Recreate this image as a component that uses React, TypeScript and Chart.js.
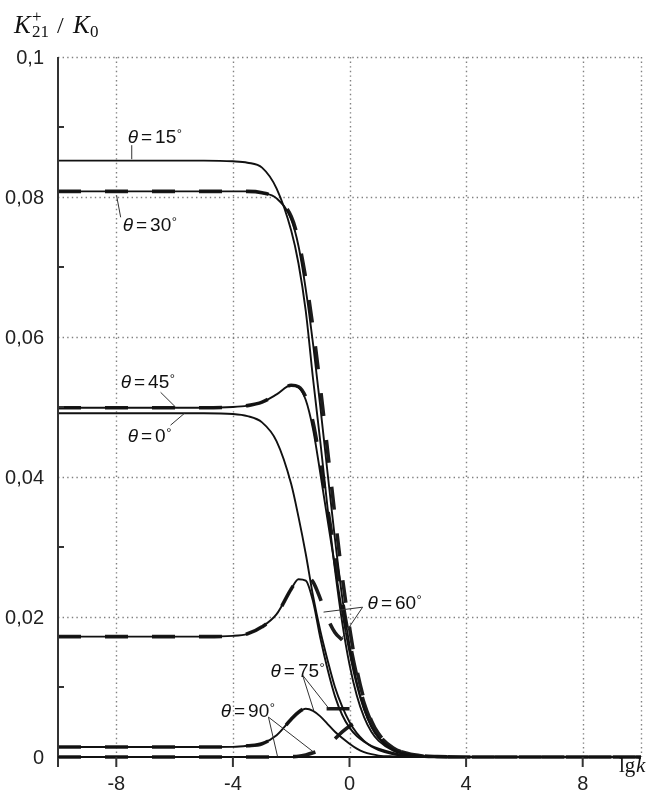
import React, { useEffect, useRef } from 'react';
import { Chart, registerables } from 'chart.js';

Chart.register(...registerables);

// lg k sample points
const LGK = [-10, -8, -6, -5, -4, -3.5, -3, -2.5, -2, -1.75, -1.5, -1.25, -1, -0.75, -0.5, -0.25, 0, 0.25, 0.5, 0.75, 1, 1.5, 2, 2.5, 3, 4, 6, 8, 10];

// solid curves
const T0 = [0.0491, 0.0491, 0.0491, 0.0491, 0.0490, 0.0487, 0.0478, 0.0451, 0.0390, 0.0343, 0.0290, 0.0230, 0.0180, 0.0138, 0.0100, 0.0072, 0.0050, 0.0034, 0.0023, 0.0015, 0.0010, 0.0004, 0.00015, 0.00005, 0.00002, 0, 0, 0, 0];
const T15 = [0.0852, 0.0852, 0.0852, 0.0852, 0.0851, 0.0849, 0.0842, 0.0812, 0.0752, 0.0705, 0.0637, 0.0540, 0.0450, 0.0355, 0.0268, 0.0192, 0.0132, 0.0088, 0.0057, 0.0036, 0.0023, 0.0009, 0.0003, 0.0001, 0.00003, 0, 0, 0, 0];
const T30 = [0.0808, 0.0808, 0.0808, 0.0808, 0.0808, 0.0808, 0.0806, 0.0798, 0.0768, 0.0730, 0.0668, 0.0590, 0.0500, 0.0405, 0.0312, 0.0228, 0.0160, 0.0107, 0.0069, 0.0043, 0.0027, 0.0010, 0.0004, 0.00012, 0.00004, 0, 0, 0, 0];
const T45 = [0.0499, 0.0499, 0.0499, 0.0499, 0.0500, 0.0502, 0.0507, 0.0518, 0.0531, 0.0528, 0.0510, 0.0468, 0.0405, 0.0338, 0.0272, 0.0207, 0.0150, 0.0103, 0.0068, 0.0044, 0.0028, 0.0011, 0.0004, 0.00012, 0.00004, 0, 0, 0, 0];
const T60 = [0.0172, 0.0172, 0.0172, 0.0172, 0.0173, 0.0176, 0.0186, 0.0204, 0.0240, 0.0254, 0.0252, 0.0222, 0.0170, 0.0125, 0.0087, 0.0060, 0.0042, 0.0030, 0.0022, 0.0016, 0.0012, 0.0006, 0.0002, 0.00007, 0.00002, 0, 0, 0, 0];
const T75 = [0.00143, 0.00143, 0.00143, 0.00143, 0.00145, 0.0016, 0.0019, 0.0031, 0.0054, 0.0064, 0.0069, 0.0066, 0.0058, 0.0047, 0.0036, 0.0027, 0.0019, 0.0012, 0.0007, 0.0004, 0.0002, 0.00008, 0.00003, 0, 0, 0, 0, 0, 0];
const T90 = [0, 0, 0, 0, 0, 0, 0, 0, 0, 0, 0, 0, 0, 0, 0, 0, 0, 0, 0, 0, 0, 0, 0, 0, 0, 0, 0, 0, 0];

// dashed curves (null = not drawn)
const D30 = [0.0808, 0.0808, 0.0808, 0.0808, 0.0808, 0.0808, 0.0806, 0.0798, 0.0772, 0.0738, 0.0683, 0.0612, 0.0528, 0.0437, 0.0345, 0.0258, 0.0185, 0.0125, 0.0082, 0.0052, 0.0033, 0.0013, 0.0005, 0.00015, 0.00005, 0, 0, 0, 0];
const D45 = [0.0499, 0.0499, 0.0499, 0.0499, 0.0500, 0.0502, 0.0507, 0.0518, 0.0531, 0.0529, 0.0514, 0.0478, 0.0420, 0.0355, 0.0290, 0.0225, 0.0166, 0.0116, 0.0077, 0.0050, 0.0032, 0.0013, 0.0005, 0.00015, 0.00005, 0, 0, 0, 0];
const D60 = [0.0172, 0.0172, 0.0172, 0.0172, 0.0173, 0.0176, 0.0186, 0.0204, 0.0240, 0.0255, 0.0258, 0.0250, 0.0226, 0.0198, 0.0178, 0.0167, null, null, null, null, null, null, null, null, null, null, null, null, null];
const D75 = [0.00143, 0.00143, 0.00143, 0.00143, 0.00145, 0.0016, 0.0019, 0.0031, 0.0054, 0.0064, 0.0069, 0.0069, 0.0069, 0.0069, 0.0069, 0.0069, 0.0069, null, null, null, null, null, null, null, null, null, null, null, null];
const D90 = [0, 0, 0, 0, 0, 0, 0, 0, 0.00005, 0.0001, 0.0003, 0.0006, 0.0010, 0.0016, 0.0026, 0.0036, 0.0044, 0.0050, null, null, null, null, null, null, null, null, null, null, null];

// axis ticks
const X_TICKS = [-8, -4, 0, 4, 8];
const X_GRID = [-8, -4, 0, 4, 8, 10];
const Y_LABELS = [0, 0.02, 0.04, 0.06, 0.08, 0.1];
const Y_LABEL_TEXT = ['0', '0,02', '0,04', '0,06', '0,08', '0,1'];
const Y_MINOR = [0.01, 0.03, 0.05, 0.07, 0.09];

// curve annotations: text position (lg k, value) and leader lines
const ANN_TEXT = ['15', '30', '45', '0', '60', '75', '90'];
const ANN_X = [-7.61, -7.78, -7.85, -7.61, 0.62, -2.71, -4.42];
const ANN_Y = [0.0877, 0.0752, 0.0527, 0.0450, 0.0212, 0.0114, 0.0057];
const LEADERS: number[][] = [
  [-7.47, 0.0874, -7.47, 0.0854],
  [-7.99, 0.0802, -7.85, 0.0771],
  [-6.48, 0.0521, -5.97, 0.0500],
  [-6.14, 0.0474, -5.66, 0.0491],
  [0.45, 0.0214, -0.89, 0.0207],
  [0.45, 0.0214, -0.31, 0.0167],
  [-1.61, 0.0117, -1.23, 0.0067],
  [-1.61, 0.0117, -0.72, 0.0070],
  [-2.78, 0.0057, -2.47, 0.0001],
  [-2.78, 0.0057, -1.23, 0.0007],
];

const mk = (ys: (number | null)[], dashed: boolean) => ({
  data: LGK.map((x, i) => ({ x, y: ys[i] })).filter((p) => p.y !== null),
  borderColor: dashed ? '#1c1c1c' : '#111111',
  borderWidth: dashed ? 3.6 : 1.9,
  borderDash: dashed ? [23, 24] : [],
  pointRadius: 0,
  cubicInterpolationMode: 'monotone' as const,
  fill: false,
  clip: false as const,
});

const decor = {
  id: 'decor',
  beforeDatasetsDraw(chart: any) {
    const { ctx, chartArea: a, scales } = chart;
    const xs = scales.x, ys = scales.y;
    ctx.save();
    ctx.strokeStyle = '#808080';
    ctx.lineWidth = 1.4;
    ctx.setLineDash([1.4, 3.2]);
    for (const v of X_GRID) {
      const px = Math.round(xs.getPixelForValue(v)) + 0.5;
      ctx.beginPath(); ctx.moveTo(px, a.top); ctx.lineTo(px, a.bottom); ctx.stroke();
    }
    for (const v of Y_LABELS) {
      if (v === 0) continue;
      const py = Math.round(ys.getPixelForValue(v)) + 0.5;
      ctx.beginPath(); ctx.moveTo(a.left, py); ctx.lineTo(a.right, py); ctx.stroke();
    }
    ctx.restore();
  },
  afterDatasetsDraw(chart: any) {
    const { ctx, chartArea: a, scales } = chart;
    const xs = scales.x, ys = scales.y;
    ctx.save();
    ctx.setLineDash([]);
    // axes
    ctx.strokeStyle = '#333';
    ctx.lineWidth = 2;
    ctx.beginPath(); ctx.moveTo(a.left, a.top); ctx.lineTo(a.left, a.bottom + 10); ctx.stroke();
    ctx.strokeStyle = '#111';
    ctx.beginPath(); ctx.moveTo(a.left, a.bottom); ctx.lineTo(a.right, a.bottom); ctx.stroke();
    // ticks
    ctx.strokeStyle = '#333';
    for (const v of X_TICKS) {
      const px = xs.getPixelForValue(v);
      ctx.beginPath(); ctx.moveTo(px, a.bottom); ctx.lineTo(px, a.bottom + 10); ctx.stroke();
    }
    for (const v of Y_MINOR) {
      const py = ys.getPixelForValue(v);
      ctx.beginPath(); ctx.moveTo(a.left, py); ctx.lineTo(a.left + 6, py); ctx.stroke();
    }
    // tick labels
    ctx.fillStyle = '#222';
    ctx.font = '20px "Liberation Sans"';
    ctx.textAlign = 'right';
    ctx.textBaseline = 'middle';
    Y_LABELS.forEach((v, i) => {
      ctx.fillText(Y_LABEL_TEXT[i], a.left - 14, ys.getPixelForValue(v) + 1);
    });
    ctx.textAlign = 'center';
    ctx.textBaseline = 'alphabetic';
    for (const v of X_TICKS) {
      ctx.fillText(v < 0 ? '-' + Math.abs(v) : String(v), xs.getPixelForValue(v), a.bottom + 33);
    }
    // axis titles
    ctx.textAlign = 'left';
    ctx.fillStyle = '#111';
    ctx.font = 'italic 25px "Liberation Serif"';
    ctx.fillText('K', 14, 33);
    ctx.fillText('K', 73, 33);
    ctx.font = '24px "Liberation Serif"';
    ctx.fillText('/', 57, 33);
    ctx.font = '17px "Liberation Serif"';
    ctx.fillText('+', 32, 22);
    ctx.fillText('21', 32, 37);
    ctx.fillText('0', 90, 37);
    ctx.font = '21px "Liberation Serif"';
    ctx.fillText('lg', 619, 772);
    ctx.font = 'italic 21px "Liberation Serif"';
    ctx.fillText('k', 636, 772);
    // annotation leaders
    ctx.strokeStyle = '#333';
    ctx.lineWidth = 1;
    for (const l of LEADERS) {
      ctx.beginPath();
      ctx.moveTo(xs.getPixelForValue(l[0]), ys.getPixelForValue(l[1]));
      ctx.lineTo(xs.getPixelForValue(l[2]), ys.getPixelForValue(l[3]));
      ctx.stroke();
    }
    // annotation texts
    ctx.fillStyle = '#111';
    ANN_TEXT.forEach((t, i) => {
      let px = xs.getPixelForValue(ANN_X[i]);
      const py = ys.getPixelForValue(ANN_Y[i]);
      ctx.font = 'italic 19px "Liberation Sans"';
      ctx.fillText('θ', px, py);
      px += ctx.measureText('θ').width + 3;
      ctx.font = '19px "Liberation Sans"';
      ctx.fillText('=', px, py);
      px += ctx.measureText('=').width + 3;
      ctx.fillText(t, px, py);
      px += ctx.measureText(t).width + 0.5;
      ctx.font = '13px "Liberation Sans"';
      ctx.fillText('°', px, py - 5);
    });
    ctx.restore();
  },
};

export default function App() {
  const ref = useRef<HTMLCanvasElement>(null);
  useEffect(() => {
    if (!ref.current) return;
    const chart = new Chart(ref.current, {
      type: 'line',
      data: {
        datasets: [
          mk(T90, false), mk(T75, false), mk(T60, false), mk(T0, false), mk(T45, false), mk(T30, false), mk(T15, false),
          mk(D90, true), mk(D75, true), mk(D60, true), mk(D45, true), mk(D30, true),
        ] as any,
      },
      options: {
        responsive: false,
        animation: false,
        events: [],
        layout: { padding: { left: 58, right: 8, top: 57, bottom: 37 } },
        plugins: { legend: { display: false }, tooltip: { enabled: false } },
        scales: {
          x: { type: 'linear', min: -10, max: 10, display: false },
          y: { type: 'linear', min: 0, max: 0.1, display: false },
        },
      },
      plugins: [decor],
    });
    return () => chart.destroy();
  }, []);
  return (
    <div style={{ position: 'fixed', left: 0, top: 0, width: 649, height: 794, background: '#fff' }}>
      <canvas ref={ref} width={649} height={794} style={{ display: 'block' }} />
    </div>
  );
}
